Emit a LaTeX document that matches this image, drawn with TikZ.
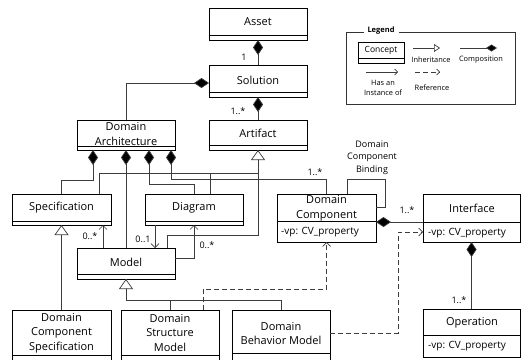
\documentclass[tikz,border=0pt]{standalone}
\usepackage{fontspec}
\setmainfont{Open Sans}
\usetikzlibrary{arrows.meta}

\definecolor{wirecol}{RGB}{60,60,60}

% a class box: name, left, top, right, bottom, y of the compartment line
\newcommand\umlclass[6]{%
  \node[cls, minimum width={(#4-(#2))*1pt}, minimum height={(#5-(#3))*1pt}] (#1) at (#2,#3) {};
  \draw[line width=0.8pt] (#2,#6) -- (#4,#6);}

\begin{document}
\begin{tikzpicture}[x=1pt,y=-1pt,
  cls/.style={draw=black, line width=0.8pt, anchor=north west, inner sep=0pt, outer sep=0pt},
  lbl/.style={font=\fontsize{11}{14.5}\selectfont, align=center, inner sep=0pt},
  attr/.style={font=\fontsize{10}{12}\selectfont, anchor=west, inner sep=0pt},
  mult/.style={font=\fontsize{9}{10}\selectfont, inner sep=0pt},
  leg/.style={font=\fontsize{7.4}{9.5}\selectfont, align=center, inner sep=0pt},
  wire/.style={draw=wirecol, line width=0.7pt},
  comp/.style={wire, -{Diamond[length=15pt,width=10pt,fill=black]}},
  inh/.style={wire, -{Triangle[open,length=10pt,width=14pt,fill=white]}},
  inst/.style={wire, -{Straight Barb[length=4pt,width=8pt]}},
  refl/.style={wire, dash pattern=on 5pt off 3pt, -{Straight Barb[length=4pt,width=8pt]}},
]
\useasboundingbox (0,0) rectangle (521,359);

% classes
\umlclass{asset}{209}{8}{307}{40}{35}
\umlclass{sol}{209}{65}{307}{97}{92}
\umlclass{art}{209}{120}{307}{150}{145}
\umlclass{da}{77}{120}{175}{150}{146}
\umlclass{spec}{12}{194}{111}{225}{221}
\umlclass{diag}{145}{194}{243}{225}{221}
\umlclass{model}{77}{248}{175}{279}{274}
\umlclass{dc}{277}{194}{376}{242}{221}
\umlclass{intf}{423}{194}{520}{242}{222}
\umlclass{oper}{423}{309}{520}{357}{335}
\umlclass{dcs}{12}{310}{111}{364}{355}
\umlclass{dsm}{121}{310}{219}{364}{355}
\umlclass{dbm}{232}{310}{330}{364}{353}

% class names and attributes
\node[lbl] (asset-t) at (258,22) {Asset};
\node[lbl] (sol-t) at (258,80) {Solution};
\node[lbl] (art-t) at (258,133) {Artifact};
\node[lbl] (da-t) at (126,134) {Domain\\Architecture};
\node[lbl] (spec-t) at (61.5,208) {Specification};
\node[lbl] (diag-t) at (194,208) {Diagram};
\node[lbl] (model-t) at (126,262) {Model};
\node[lbl] (dc-t) at (326.5,208.5) {Domain\\Component};
\node[attr] (dc-a) at (281,232) {-vp: CV\_property};
\node[lbl] (intf-t) at (472,208) {Interface};
\node[attr] (intf-a) at (428,233) {-vp: CV\_property};
\node[lbl] (oper-t) at (472,323) {Operation};
\node[attr] (oper-a) at (428,346) {-vp: CV\_property};
\node[lbl] (dcs-t) at (61.5,333) {Domain\\Component\\Specification};
\node[lbl] (dsm-t) at (170,333) {Domain\\Structure\\Model};
\node[lbl] (dbm-t) at (281,333.5) {Domain\\Behavior Model};

% generalisation towards Artifact
\draw[wire] ([xshift=38pt]spec.north) -- ++(0pt,21pt) -| ([xshift=16pt]diag.north);
\draw[wire] ([xshift=16pt]diag.north) -- ++(0pt,21pt) -| (art.south);
\draw[inh] ([xshift=41pt]model.north) -- ++(0pt,13pt) -| (art.south);

% compositions
\draw[comp] (sol.north) -- (asset.south);
\draw[comp] (art.north) -- (sol.south);
\draw[comp] (da.north) |- ([yshift=-2pt]sol.west);
\draw[comp] (spec.north) -- ++(0pt,14pt) -| ([xshift=-33pt]da.south);
\draw[comp] (model.north) -- (da.south);
\draw[comp] (diag.north) -- ++(0pt,10pt) -| ([xshift=23pt]da.south);
\draw[comp] (dc.north) -- ++(0pt,15pt) -| ([xshift=45pt]da.south);
\draw[comp] ([yshift=-4pt]intf.west) -- ([yshift=-4pt]dc.east);
\draw[comp] (oper.north) -- (intf.south);

% Domain Component Binding
\draw[wire] ([xshift=21pt]dc.north) -- ++(0pt,15pt) -| ([shift={(9pt,11pt)}]dc.east) -- ([yshift=11pt]dc.east);
\node[mult, align=center, font=\fontsize{9}{12.5}\selectfont] (bind) at (372,157.5) {Domain\\Component\\Binding};

% has-an-instance-of
\coordinate (mi) at ([xshift=-23pt]model.north);
\draw[inst] (mi) -- (mi |- spec.south);
\coordinate (di) at ([xshift=-39pt]diag.south);
\draw[inst] (di) -- (di |- model.north);
\draw[inst] ([yshift=5pt]model.east) -| (diag.south);

% generalisations towards Specification and Model
\draw[inh] (dcs.north) -- (spec.south);
\draw[wire] (dbm.north) -- ++(0pt,10pt) -| (model.south);
\draw[inh] (dsm.north) -- ++(0pt,10pt) -| (model.south);

% references
\draw[refl] ([xshift=33pt]dsm.north) -- ++(0pt,21pt) -| (dc.south);
\draw[refl] ([yshift=4pt]dbm.east) -- ++(68pt,0pt) |- ([yshift=-14pt]intf.west);

% multiplicities
\node[mult] (m1) at (244,57) {1};
\node[mult] (m2) at (238,111) {1..*};
\node[mult] (m3) at (315,172) {1..*};
\node[mult] (m4) at (407,210) {1..*};
\node[mult] (m5) at (459,300) {1..*};
\node[mult] (m6) at (90,236) {0..*};
\node[mult] (m7) at (143,239) {0..1};
\node[mult] (m8) at (207,245) {0..*};

% legend
\draw[line width=0.8pt, draw=black!80] (346,32) rectangle (515,104);
\node[font=\bfseries\fontsize{7.5}{9}\selectfont, fill=white, inner xsep=4pt, inner ysep=1pt] (legt) at (381,31) {Legend};
\node[cls, minimum width=46pt, minimum height=21pt] (lgc) at (358,42) {};
\draw[line width=0.8pt] (358,58) -- (404,58);
\node[leg, font=\fontsize{8.5}{10}\selectfont] (lgc-t) at (381,50) {Concept};
\coordinate (li1) at (413,48); \coordinate (li2) at (440,48);
\draw[wire, -{Triangle[open,length=6pt,width=8pt,fill=white]}] (li1) -- (li2);
\coordinate (lc1) at (460,48); \coordinate (lc2) at (497,48);
\draw[wire, -{Diamond[length=11pt,width=7pt,fill=black]}] (lc1) -- (lc2);
\coordinate (lh1) at (366,72); \coordinate (lh2) at (398,72);
\draw[wire, -{Straight Barb[length=3pt,width=6pt]}] (lh1) -- (lh2);
\coordinate (lr1) at (415,72); \coordinate (lr2) at (440,72);
\draw[wire, dash pattern=on 5pt off 3pt, -{Straight Barb[length=3pt,width=6pt]}] (lr1) -- (lr2);
\node[leg] (lt1) at (431,60) {Inheritance};
\node[leg] (lt2) at (481,60) {Composition};
\node[leg] (lt3) at (383,88) {Has an\\Instance of};
\node[leg] (lt4) at (432,88) {Reference};
\end{tikzpicture}
\end{document}
